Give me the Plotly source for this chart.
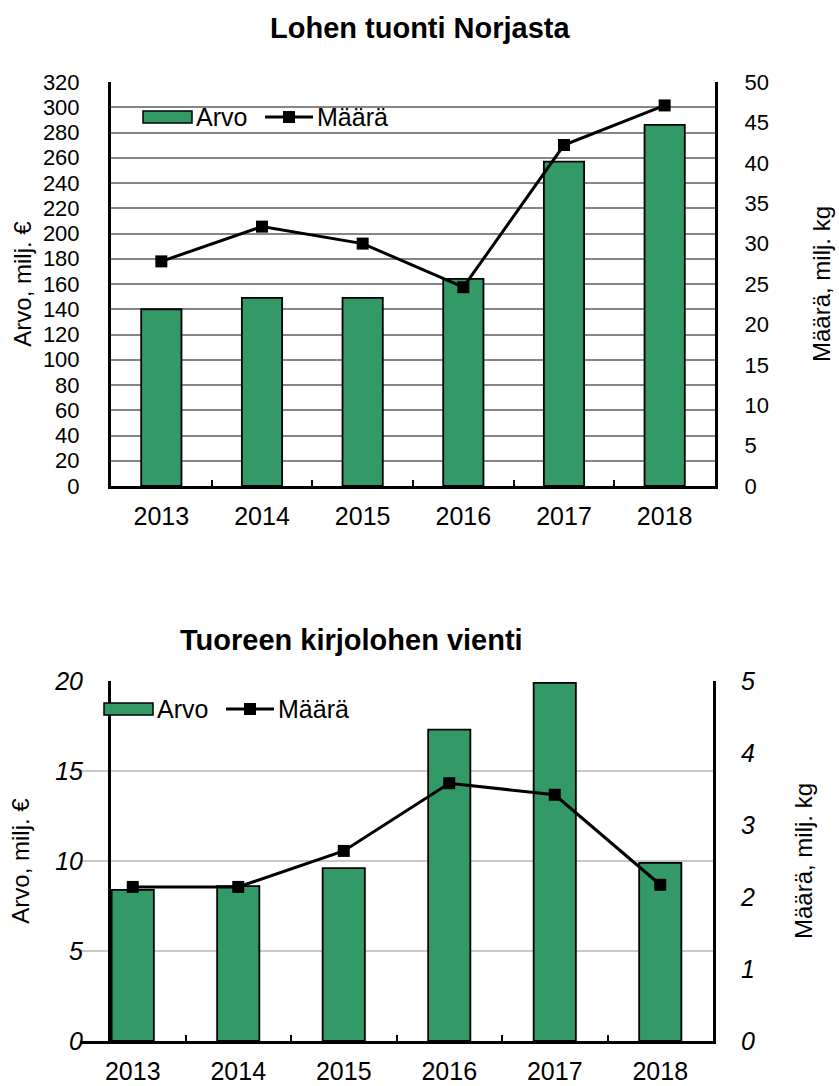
import plotly.graph_objects as go

# --- data ---
years = ["2013", "2014", "2015", "2016", "2017", "2018"]

# Lohen tuonti Norjasta
lohi_arvo = [140, 149, 149, 164, 257, 286]      # milj. €
lohi_maara = [27.8, 32.1, 30.0, 24.6, 42.2, 47.1]  # milj. kg

# Tuoreen kirjolohen vienti
kirjo_arvo = [8.4, 8.6, 9.6, 17.3, 19.9, 9.9]
kirjo_maara = [2.14, 2.14, 2.64, 3.58, 3.42, 2.17]

W, H = 839, 1086
GREEN = "#339966"
FONT = "Liberation Sans, Arial, sans-serif"


def px(x):
    return x / W


def py(y):
    return 1 - y / H


fig = go.Figure()

bar_style = dict(marker=dict(color=GREEN, line=dict(color="black", width=1.8)),
                 width=0.4, showlegend=False, hoverinfo="y")
line_style = dict(mode="lines+markers", line=dict(color="black", width=3),
                  marker=dict(symbol="square", size=12, color="black"),
                  showlegend=False)

fig.add_trace(go.Bar(x=years, y=lohi_arvo, xaxis="x", yaxis="y", name="Arvo", **bar_style))
fig.add_trace(go.Scatter(x=years, y=lohi_maara, xaxis="x", yaxis="y2", name="Määrä", **line_style))
fig.add_trace(go.Bar(x=years, y=kirjo_arvo, xaxis="x2", yaxis="y3", name="Arvo", **bar_style))
fig.add_trace(go.Scatter(x=years, y=kirjo_maara, xaxis="x2", yaxis="y4", name="Määrä", **line_style))

tickfont = dict(family=FONT, size=25, color="black")
dense = dict(family=FONT, size=22, color="black")
italic = dict(family=FONT, size=25, color="black", style="italic")
titlefont = dict(family=FONT, size=24, color="black")

xcommon = dict(type="category", showline=True, linecolor="black", linewidth=3,
               ticks="inside", tickson="boundaries", ticklen=6, tickwidth=2,
               tickcolor="black", tickfont=tickfont, showgrid=False,
               ticklabelstandoff=6, automargin=False)

fig.update_layout(
    width=W, height=H,
    margin=dict(l=0, r=0, t=0, b=0, autoexpand=False),
    paper_bgcolor="white", plot_bgcolor="white",
    font=dict(family=FONT, color="black"),
    xaxis=dict(domain=[px(111), px(715)], anchor="y", **xcommon),
    yaxis=dict(domain=[py(486), py(82)], range=[0, 320], dtick=20,
               showline=True, linecolor="black", linewidth=3,
               showgrid=True, gridcolor="#858585", gridwidth=1.5,
               tickfont=dense, ticklabelstandoff=24, zeroline=False,
               automargin=False,
               title=dict(text="Arvo, milj. €", font=titlefont, standoff=5)),
    yaxis2=dict(overlaying="y", side="right", anchor="x", range=[0, 50], dtick=5,
                showline=True, linecolor="black", linewidth=3, showgrid=False,
                tickfont=dense, ticklabelstandoff=22, zeroline=False,
                automargin=False,
                title=dict(text="Määrä, milj. kg", font=titlefont, standoff=46)),
    xaxis2=dict(domain=[px(80), px(713)], anchor="y3", **xcommon),
    yaxis3=dict(domain=[py(1041), py(681)], range=[0, 20], dtick=5,
                showline=True, linecolor="black", linewidth=3,
                showgrid=True, gridcolor="#c8c8c8", gridwidth=1.5,
                tickfont=italic, ticklabelstandoff=20, zeroline=False,
                automargin=False,
                title=dict(text="Arvo, milj. €", font=titlefont, standoff=18)),
    yaxis4=dict(overlaying="y3", side="right", anchor="x2", range=[0, 5], dtick=1,
                showline=True, linecolor="black", linewidth=3, showgrid=False,
                tickfont=italic, ticklabelstandoff=20, zeroline=False,
                automargin=False,
                title=dict(text="Määrä, milj. kg", font=titlefont, standoff=42)),
)

# titles
fig.add_annotation(text="<b>Lohen tuonti Norjasta</b>", x=px(420), y=py(28),
                   xref="paper", yref="paper", showarrow=False, yanchor="middle",
                   font=dict(family=FONT, size=29, color="black"))
fig.add_annotation(text="<b>Tuoreen kirjolohen vienti</b>", x=px(351), y=py(640),
                   xref="paper", yref="paper", showarrow=False, yanchor="middle",
                   font=dict(family=FONT, size=29, color="black"))


# hand-drawn legends (wide swatch like the original)
def legend(x0, yc):
    fig.add_shape(type="rect", xref="paper", yref="paper",
                  x0=px(x0), x1=px(x0 + 49), y0=py(yc - 6), y1=py(yc + 6),
                  fillcolor=GREEN, line=dict(color="black", width=1.5))
    fig.add_annotation(text="Arvo", x=px(x0 + 51), y=py(yc), xref="paper", yref="paper",
                       xanchor="left", yanchor="middle", showarrow=False,
                       font=dict(family=FONT, size=25, color="black"))
    lx = x0 + 122
    fig.add_shape(type="line", xref="paper", yref="paper",
                  x0=px(lx), x1=px(lx + 48), y0=py(yc), y1=py(yc),
                  line=dict(color="black", width=3))
    fig.add_shape(type="rect", xref="paper", yref="paper",
                  x0=px(lx + 18), x1=px(lx + 30), y0=py(yc - 6), y1=py(yc + 6),
                  fillcolor="black", line=dict(color="black", width=0))
    fig.add_annotation(text="Määrä", x=px(lx + 50), y=py(yc), xref="paper", yref="paper",
                       xanchor="left", yanchor="middle", showarrow=False,
                       font=dict(family=FONT, size=25, color="black"))


legend(143, 117)
legend(104, 709)

# page body has an 8px default margin; drop it so the figure fills the window
fig.write_html("out.html", config={"displayModeBar": False},
               post_script="document.body.style.margin='0';")
